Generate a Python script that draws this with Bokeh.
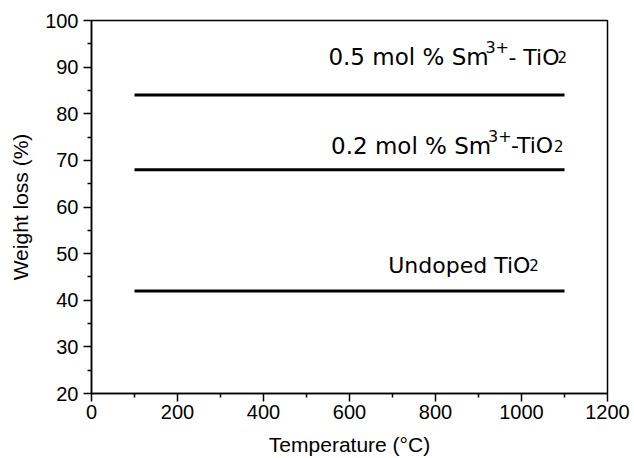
from bokeh.plotting import figure
from bokeh.models import Label, Range1d, FixedTicker
from bokeh.embed import file_html
from bokeh.resources import INLINE

# Weight loss of TiO2 samples over the calcination temperature range
temp_start = [100, 100, 100]
temp_end = [1100, 1100, 1100]
weight_loss = [84, 68, 42]

x_major = [0, 200, 400, 600, 800, 1000, 1200]
x_minor = [100, 300, 500, 700, 900, 1100]
y_major = [20, 30, 40, 50, 60, 70, 80, 90, 100]
y_minor = [25, 35, 45, 55, 65, 75, 85, 95]

# Sample labels: each is split into (text, size, x offset px, y offset px) pieces
# so that the Sm3+ superscript and the TiO2 subscript can be drawn smaller.
label_x = [551, 557, 690]
label_y = [92.1, 73.1, 47.5]
label_pieces = [
    [("0.5 mol % Sm", 23, 0, 0), ("3+", 16, 157, 10), (" - TiO", 22, 180, 0), ("2", 15, 229, 0)],
    [("0.2 mol % Sm", 23, 0, 0), ("3+", 16, 157, 10), (" -TiO", 22, 180, 0), ("2", 15, 223, 0)],
    [("Undoped TiO", 22, 0, 0), ("2", 15, 141, 0)],
]

AXIS_FONT = "Liberation Sans"
LABEL_FONT = "DejaVu Sans"

p = figure(width=634, height=458, output_backend="svg", toolbar_location=None,
           x_range=Range1d(0, 1200), y_range=Range1d(20, 100),
           min_border_left=91, min_border_right=27, min_border_top=20, min_border_bottom=63)
p.grid.visible = False
p.outline_line_color = "black"
p.outline_line_width = 1.5

for ax in (p.xaxis[0], p.yaxis[0]):
    ax.axis_line_width = 1.5
    ax.major_tick_line_width = 1.5
    ax.minor_tick_line_width = 1.5
    ax.major_tick_out = 8
    ax.major_tick_in = 0
    ax.minor_tick_out = 4
    ax.minor_tick_in = 0
    ax.major_label_text_font = AXIS_FONT
    ax.major_label_text_font_size = "20px"
    ax.major_label_text_color = "black"
    ax.axis_label_text_font = AXIS_FONT
    ax.axis_label_text_font_size = "21px"
    ax.axis_label_text_font_style = "normal"
    ax.axis_label_text_color = "black"

p.xaxis.ticker = FixedTicker(ticks=x_major, minor_ticks=x_minor)
p.yaxis.ticker = FixedTicker(ticks=y_major, minor_ticks=y_minor)
p.xaxis.axis_label = "Temperature (°C)"
p.yaxis.axis_label = "Weight loss (%)"
p.xaxis.major_label_standoff = 3
p.yaxis.major_label_standoff = 5
p.xaxis.axis_label_standoff = 11
p.yaxis.axis_label_standoff = 10

p.segment(x0=temp_start, y0=weight_loss, x1=temp_end, y1=weight_loss,
          line_color="black", line_width=3)

for lx, ly, pieces in zip(label_x, label_y, label_pieces):
    for text, size, dx, dy in pieces:
        p.add_layout(Label(x=lx, y=ly, text=text, x_offset=dx, y_offset=dy,
                           text_font=LABEL_FONT, text_font_size=f"{size}px",
                           text_color="black", text_align="left",
                           text_baseline="alphabetic"))

out = file_html(p, INLINE)
open("out.html", "w").write(out)
